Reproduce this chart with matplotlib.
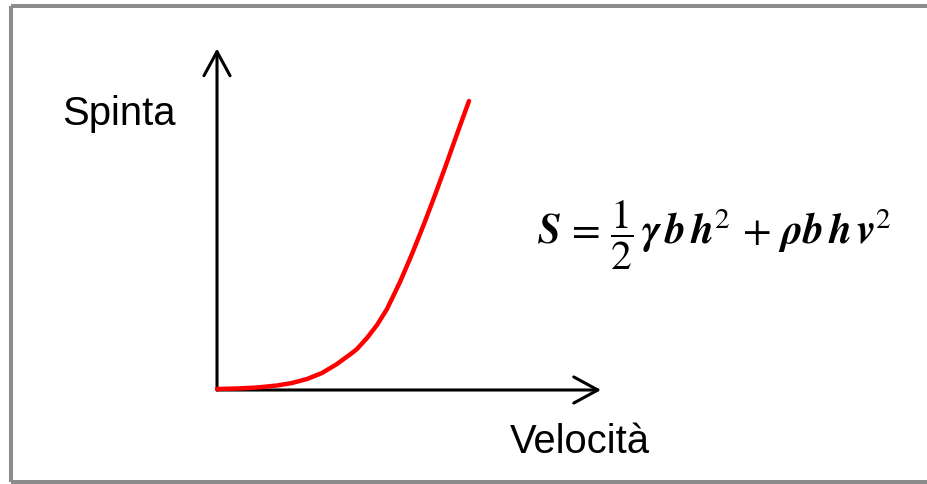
import matplotlib
matplotlib.use("Agg")
import matplotlib.pyplot as plt
from matplotlib.lines import Line2D
from matplotlib.patches import ArrowStyle

# Thrust vs. velocity curve (arbitrary units)
velocity = [0.00, 0.20, 0.40, 0.60, 0.75, 0.90, 1.05, 1.20, 1.35, 1.40,
            1.50, 1.60, 1.70, 1.83, 1.95, 2.07, 2.18, 2.29, 2.40, 2.52]
thrust = [0.01, 0.015, 0.025, 0.045, 0.07, 0.11, 0.17, 0.26, 0.37, 0.41,
          0.52, 0.65, 0.81, 1.08, 1.36, 1.66, 1.95, 2.25, 2.56, 2.89]

x_axis_end = 3.84
y_axis_end = 3.415

y_label = "Spinta"
x_label = "Velocità"
formula = (r"$\mathbfit{S}\,=\,\dfrac{1}{2}\,\mathbfit{\gamma\,b\,h}^{2}"
           r"\,+\,\mathbfit{\rho b\,h\,v}^{2}$")

plt.rcParams["mathtext.fontset"] = "stix"

W, H, DPI = 927, 485, 100
fig = plt.figure(figsize=(W / DPI, H / DPI), dpi=DPI)
fig.patch.set_facecolor("white")
ax = fig.add_axes([0, 0, 1, 1])
ax.set_xlim(-2.17, (W - 217) / 100)
ax.set_ylim(-(H - 391) / 100, 3.91)
ax.axis("off")

# Axes drawn as open arrows
style = ArrowStyle("->", head_length=17.3, head_width=9.4)
for end in [(x_axis_end, 0), (0, y_axis_end)]:
    ax.annotate("", xy=end, xytext=(0, 0),
                arrowprops=dict(arrowstyle=style, mutation_scale=1,
                                color="black", lw=2.2,
                                shrinkA=0, shrinkB=0))

ax.plot(velocity, thrust, color="#ff0000", lw=3.2,
        solid_capstyle="round", solid_joinstyle="round", zorder=3)

ax.text(-1.55, 2.66, y_label, fontsize=28.8, family="Liberation Sans",
        ha="left", va="baseline")
ax.text(2.93, -0.62, x_label, fontsize=28.8, family="Liberation Sans",
        ha="left", va="baseline")
ax.text(3.20, 1.46, formula, fontsize=30, ha="left", va="baseline")

# Gray frame on top, left and bottom
frame = dict(color="#8c8c8c", lw=2.9, transform=fig.transFigure,
             solid_capstyle="butt")
fig.add_artist(Line2D([11 / W, 1], [1 - 6.5 / H, 1 - 6.5 / H], **frame))
fig.add_artist(Line2D([11 / W, 11 / W], [2.5 / H, 1 - 6.5 / H], **frame))
fig.add_artist(Line2D([11 / W, 1], [2.5 / H, 2.5 / H], **frame))

fig.savefig("out.png", dpi=DPI, facecolor="white")
